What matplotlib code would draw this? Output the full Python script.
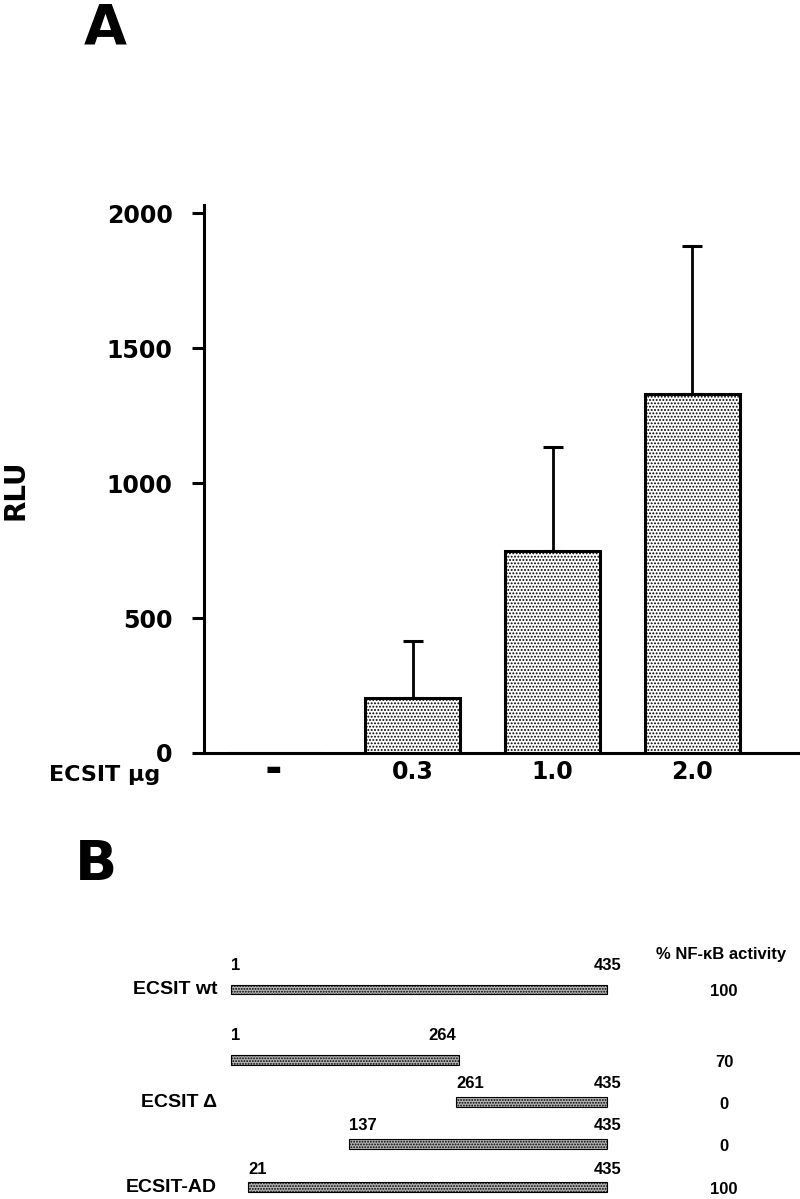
import matplotlib
matplotlib.use("Agg")
import matplotlib.pyplot as plt

# ---------------- Data ----------------
# Panel A
doses = ["\u25ac", "0.3", "1.0", "2.0"]
rlu_mean = [0, 205, 750, 1330]
rlu_err = [0, 210, 385, 548]
yticks_a = [0, 500, 1000, 1500, 2000]

# Panel B
construct_start = [1, 1, 261, 137, 21]
construct_end = [435, 264, 435, 435, 435]
activity = [100, 70, 0, 0, 100]
construct_names = ["ECSIT wt", "", "ECSIT \u0394", "", "ECSIT-AD"]

# ---------------- Figure ----------------
W, H = 800, 1199
fig = plt.figure(figsize=(W / 100, H / 100), dpi=100)
fig.patch.set_facecolor("white")
plt.rcParams["hatch.linewidth"] = 0.9

fontA = "DejaVu Sans"
fontB = "Liberation Sans"

def fy(py):
    return 1 - py / H

# ---- Panel A ----
axA = fig.add_axes([204 / W, fy(753), 1 - 204 / W, fy(205) - fy(753)])
xs = list(range(len(doses)))
axA.bar(xs, rlu_mean, width=0.68, facecolor="white", edgecolor="black",
        linewidth=2.2, hatch=".....", zorder=2)
for x, m, e in zip(xs, rlu_mean, rlu_err):
    if e > 0:
        axA.errorbar([x], [m], yerr=[[0], [e]], fmt="none", ecolor="black",
                     elinewidth=2.0, capsize=7, capthick=2.2, zorder=1)
axA.set_xlim(-0.495, 3.77)
axA.set_ylim(0, 2030)
axA.set_yticks(yticks_a)
axA.set_yticklabels([str(v) for v in yticks_a], fontfamily=fontA,
                    fontweight="bold", fontsize=17)
axA.set_xticks(xs)
xt = axA.set_xticklabels(doses, fontfamily=fontA, fontweight="bold",
                         fontsize=17)
xt[0].set_fontsize(12)
axA.tick_params(axis="x", length=0, pad=5)
axA.tick_params(axis="y", direction="out", length=8.6, width=2.2, pad=14)
for s in ["top", "right"]:
    axA.spines[s].set_visible(False)
for s in ["left", "bottom"]:
    axA.spines[s].set_linewidth(2.2)
axA.set_ylabel("RLU", fontfamily=fontA, fontweight="bold", fontsize=20,
               labelpad=0)
axA.yaxis.set_label_coords(-0.292, 0.48)

fig.text(49 / W, fy(775), "ECSIT \u03bcg", fontfamily=fontA,
         fontweight="bold", fontsize=16, ha="left", va="center")
fig.text(105 / W, fy(44), "A", fontfamily=fontA, fontweight="bold",
         fontsize=40, ha="center", va="baseline")
fig.text(96 / W, fy(880), "B", fontfamily=fontA, fontweight="bold",
         fontsize=40, ha="center", va="baseline")

# ---- Panel B ----
row_pos = [0, 1.66, 2.65, 3.64, 4.65]     # layout rows
row_px = 42.5                               # px per row unit
row0_px = 989.5
label_off = [24, 25, 19, 19, 18]            # px above bar centre
axB = fig.add_axes([0, 0, 1, fy(899.25)])
axB.set_xlim(1 - 231 / 0.866, 1 + (W - 231) / 0.866)
axB.set_ylim((H - row0_px) / row_px, (899.25 - row0_px) / row_px)
axB.axis("off")

for i, (s, e) in enumerate(zip(construct_start, construct_end)):
    y = row_pos[i]
    axB.barh(y, e - s, left=s, height=0.235, facecolor="#b4b4b4",
             edgecolor="black", linewidth=0.8, hatch="......")
    off = label_off[i] / row_px
    axB.text(s, y - off, str(s), fontfamily=fontB, fontweight="bold",
             fontsize=12, ha="left", va="center")
    end_x = e + 17 if e == 435 else e - 3
    axB.text(end_x, y - off, str(e), fontfamily=fontB, fontweight="bold",
             fontsize=12, ha="right", va="center")
    axB.text(724 / 0.866 - 231 / 0.866 + 1, y + 0.05, str(activity[i]),
             fontfamily=fontB, fontweight="bold", fontsize=12,
             ha="center", va="center")
    if construct_names[i]:
        axB.text(1 - 14 / 0.866, y, construct_names[i], fontfamily=fontB,
                 fontweight="bold", fontsize=14, ha="right", va="center")

axB.text(721 / 0.866 - 231 / 0.866 + 1, (955 - row0_px) / row_px,
         "% NF-\u03baB activity", fontfamily=fontB, fontweight="bold",
         fontsize=12, ha="center", va="center")

fig.savefig("out.png", dpi=100, facecolor="white")
